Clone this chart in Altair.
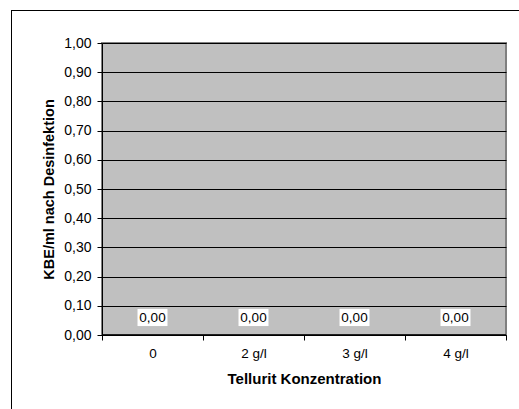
import altair as alt
import pandas as pd

categories = ["0", "2 g/l", "3 g/l", "4 g/l"]
values = [0.0, 0.0, 0.0, 0.0]
y_ticks = [0.0, 0.1, 0.2, 0.3, 0.4, 0.5, 0.6, 0.7, 0.8, 0.9, 1.0]

df = pd.DataFrame({"cat": categories, "val": values})
df["lbl"] = [f"{v:.2f}".replace(".", ",") for v in values]

FONT = "Liberation Sans"

xenc = alt.X("cat:N", sort=categories, title="Tellurit Konzentration",
             scale=alt.Scale(paddingInner=0, paddingOuter=0),
             axis=alt.Axis(labelAngle=0, tickBand="extent", domainColor="black",
                           tickColor="black", tickSize=5, labelPadding=6,
                           titlePadding=12, labelFontSize=13.5, titleFontSize=15,
                           titleFontWeight="bold", labelColor="black",
                           titleColor="black", labelFont=FONT, titleFont=FONT,
                           grid=False))
yenc = alt.Y("val:Q", title="KBE/ml nach Desinfektion",
             scale=alt.Scale(domain=[0, 1], nice=False),
             axis=alt.Axis(values=y_ticks, labelOverlap=False,
                           labelExpr="replace(format(datum.value, '.2f'), '.', ',')",
                           domainColor="black", tickColor="black", tickSize=5,
                           labelPadding=6, titlePadding=7, labelFontSize=14,
                           titleFontSize=14.5, titleFontWeight="bold",
                           labelColor="black", titleColor="black",
                           labelFont=FONT, titleFont=FONT,
                           grid=True, gridColor="black", gridWidth=1, gridOpacity=1))

base = alt.Chart(df).encode(x=xenc, y=yenc)

bars = base.mark_bar(color="#9999FF", stroke="black")

box = base.mark_point(
    shape="M-1,-0.57L1,-0.57L1,0.57L-1,0.57Z", filled=True, fill="white",
    stroke="white", opacity=1, strokeWidth=0, size=900, yOffset=-17.5
)

text = base.mark_text(font=FONT, fontSize=13.5, color="black", baseline="middle",
                      dy=-17).encode(text="lbl:N")

one = pd.DataFrame({"a": [0]})
frame_left = alt.Chart(one).mark_rect(color="black", clip=False).encode(
    x=alt.value(-91), x2=alt.value(-90), y=alt.value(-33), y2=alt.value(366))
frame_top = alt.Chart(one).mark_rect(color="black", clip=False).encode(
    x=alt.value(-91), x2=alt.value(426), y=alt.value(-33), y2=alt.value(-32))

chart = alt.layer(bars, box, text, frame_left, frame_top).properties(
    width=404, height=292,
    autosize=alt.AutoSizeParams(type="none"),
    padding={"left": 102, "top": 43, "right": 13, "bottom": 74},
    background="white",
).configure_view(
    fill="#C0C0C0", stroke="#808080", strokeWidth=2
)

chart.save("out.html", embed_options={"renderer": "svg", "actions": False})
